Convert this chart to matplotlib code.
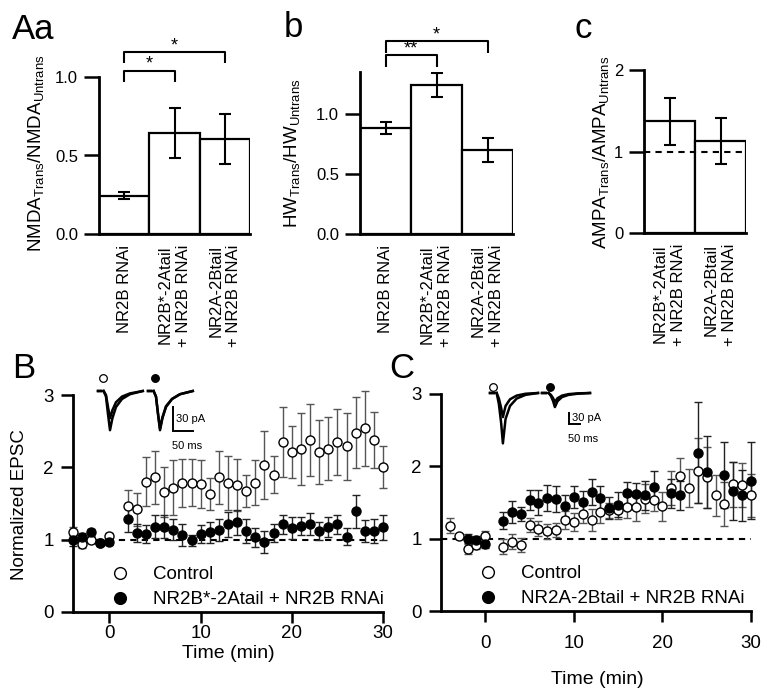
import numpy as np
import matplotlib
matplotlib.use('Agg')
import matplotlib.pyplot as plt

plt.rcParams['font.family'] = ['Liberation Sans', 'DejaVu Sans']
plt.rcParams['mathtext.fontset'] = 'custom'
plt.rcParams['mathtext.rm'] = 'Liberation Sans'
plt.rcParams['mathtext.it'] = 'Liberation Sans:italic'

# bar panels (mean, sem)
groups_a = ['NR2B RNAi', 'NR2B*-2Atail\n+ NR2B RNAi', 'NR2A-2Btail\n+ NR2B RNAi']
nmda_mean = [0.245, 0.645, 0.605]
nmda_sem = [0.02, 0.16, 0.16]
hw_mean = [0.885, 1.245, 0.70]
hw_sem = [0.05, 0.10, 0.10]
groups_c = ['NR2B*-2Atail\n+ NR2B RNAi', 'NR2A-2Btail\n+ NR2B RNAi']
ampa_mean = [1.37, 1.13]
ampa_sem = [0.29, 0.28]

# significance brackets: (bar i, bar j, height, label)
sig_a = [(0, 1, 1.04, '*'), (0, 2, 1.16, '*')]
sig_b = [(0, 1, 1.49, '**'), (0, 2, 1.61, '*')]

# time course B
time_B = [-4, -3, -2, -1, 0, 2, 3, 4, 5, 6, 7, 8, 9, 10, 11, 12, 13, 14, 15, 16,
          17, 18, 19, 20, 21, 22, 23, 24, 25, 26, 27, 28, 29, 30]
ctrl_B = [1.11, 0.94, 0.99, 0.96, 1.05, 1.47, 1.42, 1.80, 1.86, 1.66, 1.72, 1.78,
          1.79, 1.77, 1.63, 1.86, 1.78, 1.76, 1.67, 1.79, 2.03, 1.90, 2.35, 2.21,
          2.25, 2.38, 2.21, 2.26, 2.35, 2.29, 2.48, 2.54, 2.38, 2.01]
ctrl_B_sem = [0.06, 0.05, 0.04, 0.05, 0.04, 0.21, 0.23, 0.34, 0.37, 0.35, 0.38, 0.33,
              0.32, 0.33, 0.22, 0.37, 0.37, 0.36, 0.22, 0.31, 0.47, 0.26, 0.49, 0.36,
              0.50, 0.50, 0.44, 0.44, 0.45, 0.46, 0.49, 0.52, 0.39, 0.29]
mut_B = [0.99, 1.04, 1.10, 0.96, 0.97, 1.28, 1.09, 1.08, 1.18, 1.18, 1.14, 1.06,
         0.99, 1.08, 1.10, 1.13, 1.21, 1.24, 1.12, 1.03, 0.97, 1.09, 1.21, 1.16,
         1.19, 1.22, 1.12, 1.17, 1.21, 1.04, 1.39, 1.12, 1.12, 1.17]
mut_B_sem = [0.08, 0.05, 0.05, 0.04, 0.05, 0.18, 0.12, 0.12, 0.16, 0.16, 0.15, 0.15,
             0.08, 0.12, 0.14, 0.15, 0.17, 0.17, 0.17, 0.13, 0.15, 0.12, 0.13, 0.15,
             0.13, 0.15, 0.12, 0.14, 0.13, 0.12, 0.23, 0.15, 0.16, 0.17]

# time course C
time_C = time_B
ctrl_C = [1.18, 1.03, 0.86, 0.91, 1.04, 0.89, 0.96, 0.91, 1.19, 1.14, 1.10, 1.12,
          1.26, 1.23, 1.34, 1.26, 1.37, 1.39, 1.39, 1.44, 1.44, 1.55, 1.53, 1.45,
          1.70, 1.86, 1.70, 1.94, 1.85, 1.60, 1.48, 1.75, 1.74, 1.60]
ctrl_C_sem = [0.10, 0.03, 0.07, 0.05, 0.07, 0.10, 0.10, 0.10, 0.10, 0.10, 0.10, 0.10,
              0.12, 0.12, 0.13, 0.15, 0.15, 0.10, 0.12, 0.15, 0.20, 0.20, 0.15, 0.20,
              0.23, 0.26, 0.26, 0.45, 0.42, 0.28, 0.30, 0.31, 0.30, 0.30]
time_C_mut = [-2, -1, 0, 2, 3, 4, 5, 6, 7, 8, 9, 10, 11, 12, 13, 14, 15, 16, 17, 18,
              19, 21, 22, 24, 25, 27, 28, 29, 30]
mut_C = [1.00, 0.98, 0.92, 1.25, 1.37, 1.34, 1.53, 1.50, 1.56, 1.55, 1.45, 1.58,
         1.51, 1.65, 1.56, 1.42, 1.47, 1.63, 1.62, 1.60, 1.72, 1.63, 1.60, 2.19,
         1.92, 1.88, 1.66, 1.60, 1.80]
mut_C_sem = [0.06, 0.05, 0.05, 0.12, 0.15, 0.10, 0.14, 0.17, 0.18, 0.18, 0.15, 0.15,
             0.15, 0.18, 0.17, 0.15, 0.17, 0.15, 0.15, 0.20, 0.21, 0.20, 0.20, 0.70,
             0.50, 0.46, 0.40, 0.35, 0.53]

# example EPSC traces (ms, pA): before / after
trace_t_B = [0, 8, np.nan, 14, 20, 25, 30, 36, 45, 60, 80, 112]
ctrl_tr_B = [[0, 0, np.nan, 0, -5, -20, -34, -24, -14, -7, -3, 0],
             [0, 0, np.nan, 0, -7, -29, -49, -34, -20, -10, -4, 0]]
mut_tr_B = [[0, 0, np.nan, 0, -7, -29, -49, -34, -20, -10, -4, 0],
            [0, 0, np.nan, 0, -7, -28, -47, -33, -19, -10, -4, 0]]
trace_t_C = [0, 18, np.nan, 30, 40, 50, 58, 70, 90, 120, 160, 216]
ctrl_tr_C = [[0, 0, np.nan, 0, -15, -40, -65, -35, -17, -7, -2, 0],
             [0, 0, np.nan, 0, -30, -80, -136, -70, -35, -15, -5, 0]]
mut_tr_C = [[0, 0, np.nan, 0, -8, -22, -38, -22, -11, -5, -2, 0],
            [0, 0, np.nan, 0, -5, -14, -24, -14, -7, -3, -1, 0]]

W, H = 764, 694
fig = plt.figure(figsize=(W / 100, H / 100), dpi=100)


def px_axes(l, t, r, b):
    return fig.add_axes([l / W, 1 - b / H, (r - l) / W, (b - t) / H])


def bar_panel(ax, names, mean, sem, ylim, yticks, ticklabels):
    x = np.arange(len(mean))
    ax.bar(x, mean, width=1.0, color='white', edgecolor='black', linewidth=1.6,
           yerr=sem, capsize=4.5, error_kw=dict(elinewidth=1.5, capthick=1.5))
    ax.set_xlim(-0.5, len(mean) - 0.5)
    ax.set_ylim(*ylim)
    ax.set_yticks(yticks, ticklabels)
    ax.set_xticks(x, names, rotation=90, fontsize=12)
    for lab in ax.get_xticklabels():
        lab.set_linespacing(1.25)
        lab.set_multialignment('right')
    ax.tick_params(axis='x', length=0, pad=8)
    ax.tick_params(axis='y', length=11, width=1.8, labelsize=12, pad=4)
    for s in ['top', 'right']:
        ax.spines[s].set_visible(False)
    for s in ['left', 'bottom']:
        ax.spines[s].set_linewidth(2.0)


def brackets(ax, sig, drop):
    for i, j, h, lab in sig:
        ax.plot([i, i, j, j], [h - drop, h, h, h - drop], color='k', lw=1.5,
                clip_on=False, solid_capstyle='butt')
        ax.text((i + j) / 2, h - drop * 0.2, lab, ha='center', va='bottom',
                fontsize=13)


# ---- Aa ----
axA = px_axes(99, 77, 250, 234)
bar_panel(axA, groups_a, nmda_mean, nmda_sem, (0, 1.0), [0, 0.5, 1.0],
          ['0.0', '0.5', '1.0'])
brackets(axA, sig_a, 0.07)
fig.text(36 / W, 1 - 153 / H, r'NMDA$_{\mathrm{Trans}}$/NMDA$_{\mathrm{Untrans}}$',
         rotation=90, ha='center', va='center', fontsize=13.5)
fig.text(12 / W, 1 - 39 / H, 'Aa', fontsize=25, ha='left', va='baseline')

# ---- b ----
axb = px_axes(360, 72, 513, 234)
bar_panel(axb, groups_a, hw_mean, hw_sem, (0, 1.35), [0, 0.5, 1.0],
          ['0.0', '0.5', '1.0'])
brackets(axb, sig_b, 0.1)
fig.text(292 / W, 1 - 153 / H, r'HW$_{\mathrm{Trans}}$/HW$_{\mathrm{Untrans}}$',
         rotation=90, ha='center', va='center', fontsize=13.5)
fig.text(284 / W, 1 - 37 / H, 'b', fontsize=25, ha='left', va='baseline')

# ---- c ----
axc = px_axes(644, 70, 746, 233)
bar_panel(axc, groups_c, ampa_mean, ampa_sem, (0, 2), [0, 1, 2], ['0', '1', '2'])
axc.axhline(1, color='k', lw=1.5, ls=(0, (3, 2.5)), zorder=3)
fig.text(601 / W, 1 - 152 / H, r'AMPA$_{\mathrm{Trans}}$/AMPA$_{\mathrm{Untrans}}$',
         rotation=90, ha='center', va='center', fontsize=13.5)
fig.text(574 / W, 1 - 38 / H, 'c', fontsize=25, ha='left', va='baseline')


# ---- time courses ----
def time_panel(ax, t1, v1, e1, t2, v2, e2, lab2, xlim, legend_xy, xpad):
    ax.errorbar(t1, v1, yerr=e1, fmt='none', ecolor='#555555', elinewidth=1.0,
                capsize=3, capthick=1.0, clip_on=False, zorder=2)
    ax.errorbar(t2, v2, yerr=e2, fmt='none', ecolor='#222222', elinewidth=1.0,
                capsize=3, capthick=1.0, clip_on=False, zorder=2)
    ax.plot(t2, v2, 'o', ms=6.5, mfc='black', mec='black', mew=1.0, ls='none',
            clip_on=False, zorder=4, label=lab2)
    ax.plot(t1, v1, 'o', ms=6.5, mfc='white', mec='black', mew=1.0, ls='none',
            clip_on=False, zorder=3, label='Control')
    ax.axhline(1, color='k', lw=1.5, ls=(0, (3, 2.5)), zorder=1)
    ax.set_xlim(*xlim)
    ax.set_ylim(0, 3)
    ax.set_xticks([0, 10, 20, 30])
    ax.set_yticks([0, 1, 2, 3])
    ax.tick_params(axis='y', length=9, width=1.8, labelsize=13.5, pad=5)
    ax.tick_params(axis='x', length=8, width=1.8, labelsize=13.5, pad=xpad)
    for s in ['top', 'right']:
        ax.spines[s].set_visible(False)
    for s in ['left', 'bottom']:
        ax.spines[s].set_linewidth(2.0)
    h, l = ax.get_legend_handles_labels()
    ax.legend(h[::-1], l[::-1], loc='upper left', bbox_to_anchor=legend_xy,
              frameon=False, fontsize=13.5, handlelength=1.0, handletextpad=1.25,
              labelspacing=0.42, borderpad=0, borderaxespad=0, markerscale=1.3)


axB = px_axes(73, 395, 383, 612)
time_panel(axB, time_B, ctrl_B, ctrl_B_sem, time_B, mut_B, mut_B_sem,
           'NR2B*-2Atail + NR2B RNAi', (-4, 30), (0.121, 0.212), 1)
fig.text(228 / W, 1 - 653 / H, 'Time (min)', ha='center', va='center', fontsize=14)
fig.text(20 / W, 1 - 505 / H, 'Normalized EPSC', rotation=90, ha='center',
         va='center', fontsize=13.5)
fig.text(12 / W, 1 - 378 / H, 'B', fontsize=25, ha='left', va='baseline')

axC = px_axes(441, 394, 751, 611)
time_panel(axC, time_C, ctrl_C, ctrl_C_sem, time_C_mut, mut_C, mut_C_sem,
           'NR2A-2Btail + NR2B RNAi', (-5, 30), (0.121, 0.212), 9)
fig.text(597 / W, 1 - 680 / H, 'Time (min)', ha='center', va='center', fontsize=14)
fig.text(389 / W, 1 - 378 / H, 'C', fontsize=25, ha='left', va='baseline')


# ---- example traces ----
def trace_inset(box, ms_px, pa_px, base_py, offsets, traces, t, bar_px, marks):
    l, tp, r, b = box
    ax = px_axes(l, tp, r, b)
    ax.set_xlim(0, (r - l) * ms_px)
    ax.set_ylim(-(b - base_py) * pa_px, (base_py - tp) * pa_px)
    ax.axis('off')
    for off, trs in zip(offsets, traces):
        for tr in trs:
            ax.plot(np.array(t) + (off - l) * ms_px, tr, color='black', lw=1.8)
    bx, by = bar_px
    x0 = (bx - l) * ms_px
    y0 = -(by - base_py) * pa_px
    ax.plot([x0, x0, x0 + 50], [y0 + 30, y0, y0], color='black', lw=1.4,
            solid_joinstyle='miter')
    ax.text(x0 + 3 * ms_px, y0 + 15, '30 pA', fontsize=8, va='center', ha='left')
    ax.text(x0 - 1 * ms_px, y0 - 15 * pa_px, '50 ms', fontsize=8, va='center',
            ha='left')
    for (mx, my), fc in zip(marks, ['white', 'black']):
        ax.plot((mx - l) * ms_px, -(my - base_py) * pa_px, 'o', ms=5.5, mfc=fc,
                mec='black', mew=0.9, clip_on=False)


trace_inset((95, 368, 205, 455), 2.5, 1.25, 391, [98, 148],
            [ctrl_tr_B, mut_tr_B], trace_t_B, (173, 431), [(103, 378), (155, 378)])
trace_inset((478, 372, 600, 452), 4.5, 2.7, 393, [490, 542],
            [ctrl_tr_C, mut_tr_C], trace_t_C, (569, 424), [(493, 387), (550, 387)])

fig.savefig('out.png', dpi=100)
